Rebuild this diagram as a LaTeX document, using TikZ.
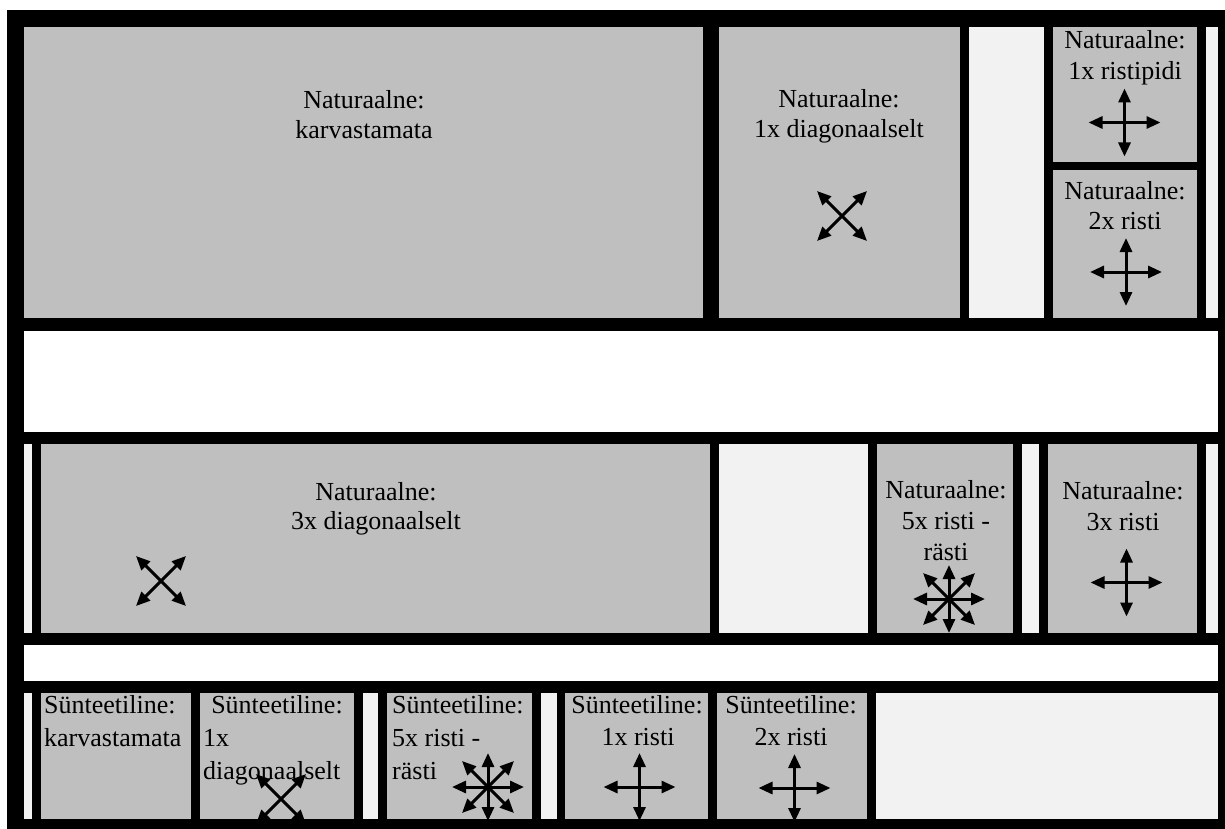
\documentclass[tikz,border=0pt]{standalone}
\usepackage{fontspec}
\setmainfont{Liberation Serif}
\usetikzlibrary{arrows.meta}
\definecolor{midgray}{RGB}{191,191,191}
\definecolor{palegray}{RGB}{242,242,242}
\tikzset{
  cell/.style={fill=midgray},
  pale/.style={fill=palegray},
  blank/.style={fill=white},
  lbl/.style={inner sep=0pt, anchor=base, font=\rmfamily\fontsize{26}{30}\selectfont},
  lbll/.style={lbl, anchor=base west},
  arr/.style={line width=3pt, {Triangle[length=14pt,width=12pt]}-{Triangle[length=14pt,width=12pt]}},
  crosspic/.pic={\draw[arr] (-36,0) -- (36,0); \draw[arr] (0,-34) -- (0,34);},
  diagpic/.pic={\draw[arr] (-25,-25) -- (25,25); \draw[arr] (-25,25) -- (25,-25);},
  starpic/.pic={\draw[arr] (-36,0) -- (36,0); \draw[arr] (0,-34) -- (0,34);
                \draw[arr] (-26,-26) -- (26,26); \draw[arr] (-26,26) -- (26,-26);},
}
\begin{document}
\begin{tikzpicture}[x=1pt,y=-1pt]
\useasboundingbox (0,0) rectangle (1225,829);
% frame
\fill[black] (7,10) rectangle (1225,829);
% row 1
\fill[cell] (24,27) rectangle (703,318);
\fill[cell] (719,27) rectangle (960,318);
\fill[pale] (969,27) rectangle (1044,318);
\fill[cell] (1053,27) rectangle (1197,162);
\fill[cell] (1053,170) rectangle (1197,318);
\fill[pale] (1206,27) rectangle (1218,318);
% row 2
\fill[blank] (24,331) rectangle (1218,432);
% row 3
\fill[pale] (24,444) rectangle (32,633);
\fill[cell] (41,444) rectangle (710,633);
\fill[pale] (719,444) rectangle (868,633);
\fill[cell] (877,444) rectangle (1013,633);
\fill[pale] (1022,444) rectangle (1039,633);
\fill[cell] (1048,444) rectangle (1197,633);
\fill[pale] (1206,444) rectangle (1218,633);
% row 4
\fill[blank] (24,645) rectangle (1218,681);
% row 5
\fill[pale] (24,693) rectangle (32,819);
\fill[cell] (41,693) rectangle (191,819);
\fill[cell] (200,693) rectangle (354,819);
\fill[pale] (363,693) rectangle (378,819);
\fill[cell] (387,693) rectangle (532,819);
\fill[pale] (541,693) rectangle (557,819);
\fill[cell] (565,693) rectangle (708,819);
\fill[cell] (717,693) rectangle (867,819);
\fill[pale] (876,693) rectangle (1218,819);

% texts row 1
\node[lbl] (a1) at (364,109) {Naturaalne:};
\node[lbl] (a2) at (364,139) {karvastamata};
\node[lbl] (b1) at (839,108) {Naturaalne:};
\node[lbl] (b2) at (839,138) {1x diagonaalselt};
\node[lbl] (c1) at (1125,49) {Naturaalne:};
\node[lbl] (c2) at (1125,80) {1x ristipidi};
\node[lbl] (d1) at (1125,199) {Naturaalne:};
\node[lbl] (d2) at (1125,229) {2x risti};
% texts row 3
\node[lbl] (e1) at (376,500) {Naturaalne:};
\node[lbl] (e2) at (376,529) {3x diagonaalselt};
\node[lbl] (f1) at (946,498) {Naturaalne:};
\node[lbl] (f2) at (946,529) {5x risti -};
\node[lbl] (f3) at (946,560) {rästi};
\node[lbl] (g1) at (1123,499) {Naturaalne:};
\node[lbl] (g2) at (1123,530) {3x risti};
% texts row 5
\node[lbll] (h1) at (44,713) {Sünteetiline:};
\node[lbll] (h2) at (44,746) {karvastamata};
\node[lbl] (i1) at (277,713) {Sünteetiline:};
\node[lbll] (i2) at (203,746) {1x};
\node[lbll] (i3) at (203,779) {diagonaalselt};
\node[lbll] (j1) at (392,713) {Sünteetiline:};
\node[lbll] (j2) at (392,746) {5x risti -};
\node[lbll] (j3) at (392,779) {rästi};
\node[lbl] (k1) at (637,713) {Sünteetiline:};
\node[lbl] (k2) at (638,745) {1x risti};
\node[lbl] (l1) at (791,713) {Sünteetiline:};
\node[lbl] (l2) at (791,745) {2x risti};

% arrow symbols
\pic at (842,216) {diagpic};
\pic at (1124.5,122.5) {crosspic};
\pic at (1126,272) {crosspic};
\pic at (161,581) {diagpic};
\pic at (949,599) {starpic};
\pic at (1126.5,582.5) {crosspic};
\pic at (281,799) {diagpic};
\pic at (488,787) {starpic};
\pic at (639.5,787) {crosspic};
\pic at (794.5,788) {crosspic};

% borders over clipped arrows
\fill[black] (7,633) rectangle (1225,645);
\fill[black] (7,819) rectangle (1225,829);
\end{tikzpicture}
\end{document}
